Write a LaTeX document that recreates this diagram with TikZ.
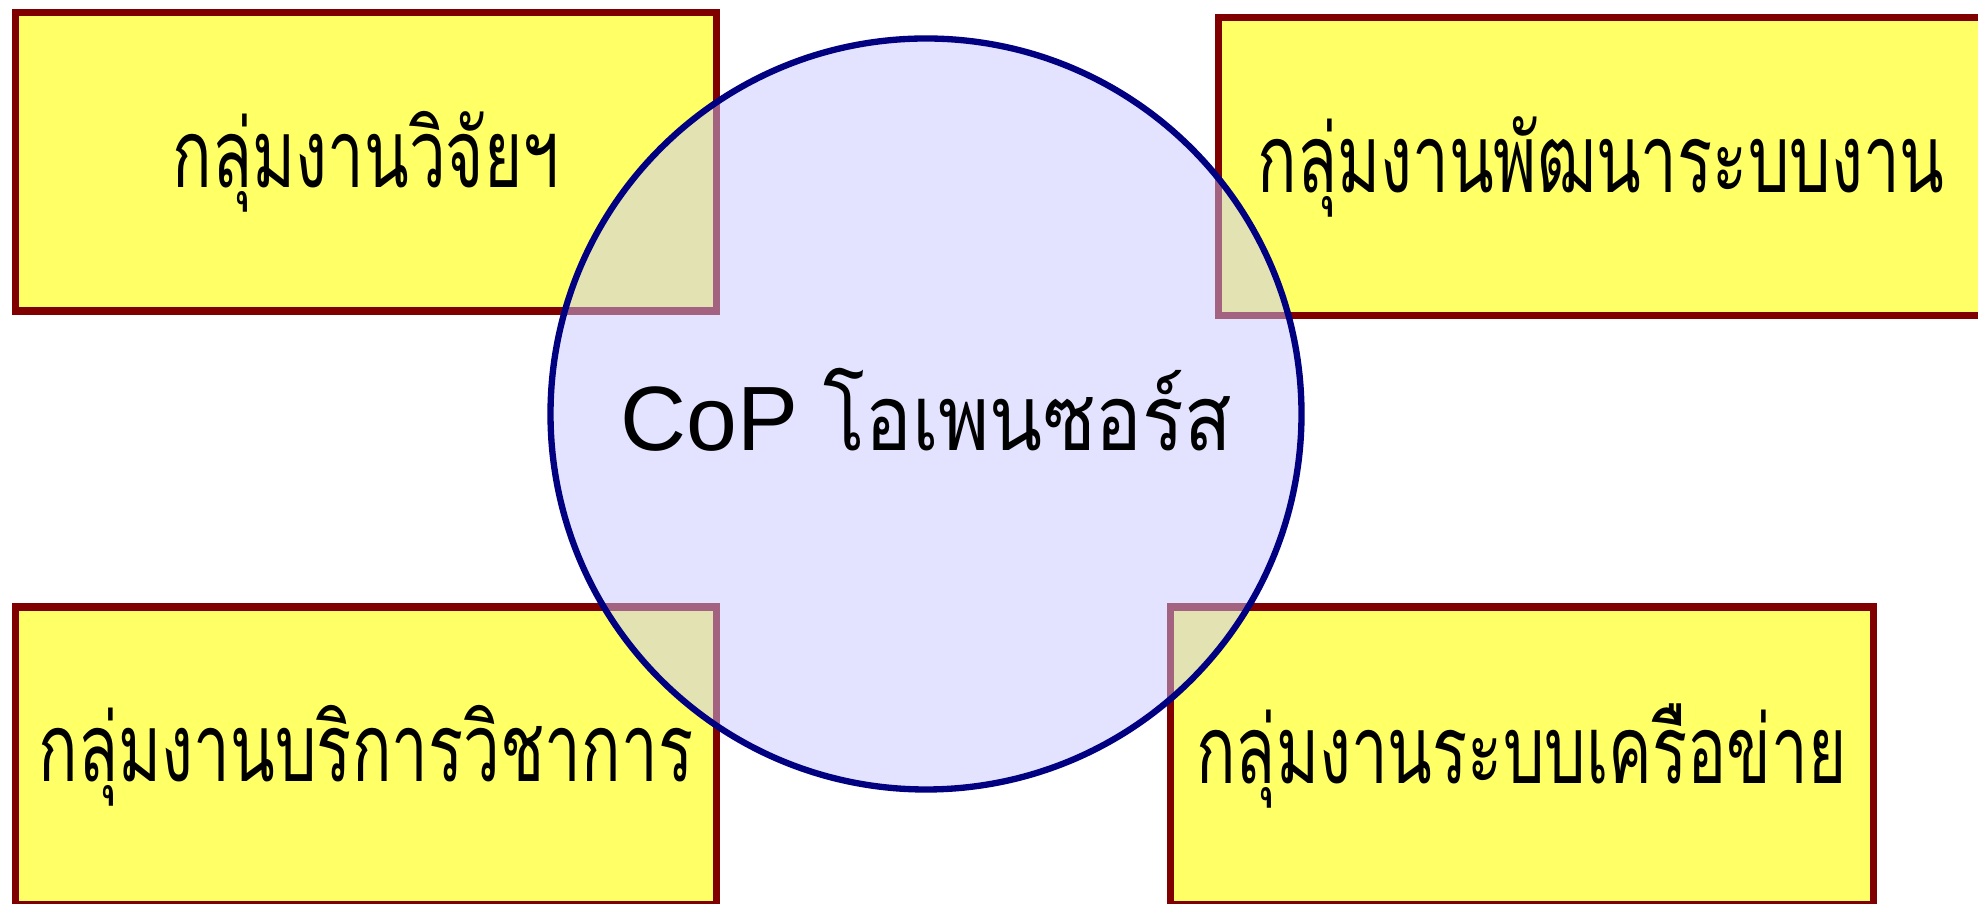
\documentclass[tikz,border=0pt]{standalone}
\usepackage{fontspec}
\setmainfont{Liberation Sans}
\newfontfamily\thaifont[Script=Thai, FakeStretch=0.69]{Loma}
\newfontfamily\thaihub[Script=Thai, FakeStretch=0.85]{Loma}
\usetikzlibrary{positioning}
\definecolor{C_yellow}{RGB}{255,255,102}
\definecolor{C_maroon}{RGB}{128,0,0}
\definecolor{C_navy}{RGB}{0,0,128}
\definecolor{C_lavender}{RGB}{199,199,255}

\begin{document}
\begin{tikzpicture}[every node/.style={font=\fontsize{26}{30}\selectfont}]
  \tikzset{
    groupbox/.style={rectangle, draw=C_maroon, fill=C_yellow, line width=2pt, minimum width=7.01cm, minimum height=2.98cm, inner sep=0pt, font=\thaifont\fontsize{27}{30}\selectfont},
    cophub/.style={circle, draw=C_navy, fill=C_lavender, fill opacity=0.5, text opacity=1, line width=1.8pt, minimum size=7.51cm, inner sep=0pt}
  }
  \useasboundingbox (0,0) rectangle (19.78,9.04);

  \node[groupbox] (research) at (3.66,7.42) {กลุ่มงานวิจัยฯ};
  \node[groupbox, minimum width=7.66cm] (develop) at (16.01,7.375) {กลุ่มงานพัฒนาระบบงาน};
  \node[groupbox] (service) at (3.66,1.48) {กลุ่มงานบริการวิชาการ};
  \node[groupbox, minimum width=7.03cm] (network) at (15.215,1.48) {กลุ่มงานระบบเครือข่าย};

  \node[cophub] (cop) at (9.26,4.90) {\raisebox{0.1cm}{CoP {\thaihub โอเพนซอร์ส}}};
\end{tikzpicture}
\end{document}
